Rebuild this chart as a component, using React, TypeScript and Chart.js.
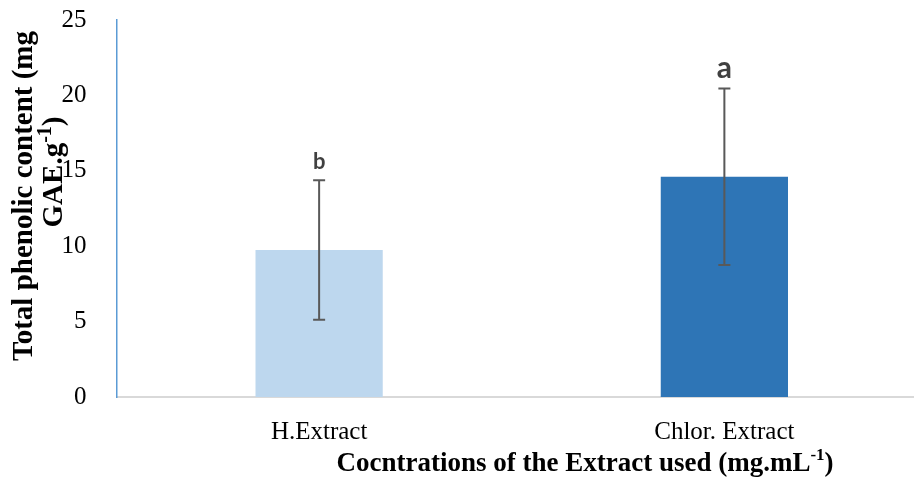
import React, { useEffect, useRef } from "react";
import { Chart, registerables } from "chart.js";

Chart.register(...registerables);

const categories = ["H.Extract", "Chlor. Extract"];
const means = [9.75, 14.6];
const errors = [4.63, 5.85];
const letters = ["b", "a"];
const letterSizes = [22, 30];
const barColors = ["#BDD7EE", "#2E75B6"];
const yTicks = [0, 5, 10, 15, 20, 25];

const yTitleLine1 = "Total phenolic content (mg";
const yTitleLine2 = ["GAE.g", "-1", ")"];
const xTitle = ["Cocntrations of the Extract used (mg.mL", "-1", ")"];

function drawSupText(
  ctx: CanvasRenderingContext2D,
  parts: string[],
  cx: number,
  cy: number,
  size: number,
  supRatio: number
) {
  const main = `bold ${size}px "Liberation Serif", "Times New Roman", serif`;
  const sup = `bold ${Math.round(size * supRatio)}px "Liberation Serif", "Times New Roman", serif`;
  ctx.font = main;
  const w0 = ctx.measureText(parts[0]).width;
  const w2 = ctx.measureText(parts[2]).width;
  ctx.font = sup;
  const w1 = ctx.measureText(parts[1]).width;
  const total = w0 + w1 + w2;
  let x = cx - total / 2;
  ctx.textAlign = "left";
  ctx.textBaseline = "middle";
  ctx.font = main;
  ctx.fillText(parts[0], x, cy);
  x += w0;
  ctx.font = sup;
  ctx.fillText(parts[1], x, cy - size * 0.3);
  x += w1;
  ctx.font = main;
  ctx.fillText(parts[2], x, cy);
}

const overlayPlugin = {
  id: "overlay",
  afterDatasetsDraw(chart: any) {
    const ctx = chart.ctx as CanvasRenderingContext2D;
    const xs = chart.scales.x;
    const ys = chart.scales.y;
    ctx.save();
    means.forEach((m, i) => {
      const x = xs.getPixelForValue(i);
      const top = ys.getPixelForValue(m + errors[i]);
      const bot = ys.getPixelForValue(m - errors[i]);
      ctx.strokeStyle = "#595959";
      ctx.lineWidth = 2;
      ctx.beginPath();
      ctx.moveTo(x, top);
      ctx.lineTo(x, bot);
      ctx.moveTo(x - 6, top);
      ctx.lineTo(x + 6, top);
      ctx.moveTo(x - 6, bot);
      ctx.lineTo(x + 6, bot);
      ctx.stroke();
      ctx.fillStyle = "#404040";
      ctx.font = `bold ${letterSizes[i]}px Lato, "Open Sans", sans-serif`;
      ctx.textAlign = "center";
      ctx.textBaseline = "alphabetic";
      ctx.fillText(letters[i], x, top - 11);
    });
    ctx.restore();
  },
  afterDraw(chart: any) {
    const ctx = chart.ctx as CanvasRenderingContext2D;
    ctx.save();
    ctx.fillStyle = "#000000";
    drawSupText(ctx, xTitle, 585, 464, 27, 0.62);
    ctx.translate(25, 196);
    ctx.rotate(-Math.PI / 2);
    ctx.font = `bold 29px "Liberation Serif", "Times New Roman", serif`;
    ctx.textAlign = "center";
    ctx.textBaseline = "middle";
    ctx.fillText(yTitleLine1, 0, 0);
    ctx.restore();
    ctx.save();
    ctx.fillStyle = "#000000";
    ctx.translate(55, 172);
    ctx.rotate(-Math.PI / 2);
    drawSupText(ctx, yTitleLine2, 0, 0, 29, 0.7);
    ctx.restore();
  },
};

export default function App() {
  const ref = useRef<HTMLCanvasElement | null>(null);
  useEffect(() => {
    if (!ref.current) return;
    const chart = new Chart(ref.current, {
      type: "bar",
      data: {
        labels: categories,
        datasets: [
          {
            data: means,
            backgroundColor: barColors,
            barPercentage: 0.314,
            categoryPercentage: 1,
          },
        ],
      },
      options: {
        responsive: false,
        animation: false,
        layout: { padding: { top: 20, left: 0, right: 0, bottom: 0 } },
        plugins: {
          legend: { display: false },
          tooltip: { enabled: false },
        },
        scales: {
          x: {
            grid: { display: false },
            border: { display: true, color: "#D9D9D9", width: 2 },
            ticks: {
              color: "#000000",
              padding: 12,
              font: { family: '"Liberation Serif", "Times New Roman", serif', size: 25 },
            },
            afterFit: (s: any) => {
              s.height = 82;
              s.paddingLeft = 0;
              s.paddingRight = 0;
            },
          },
          y: {
            min: 0,
            max: 25,
            grid: { display: false },
            border: { display: true, color: "#5B9BD5", width: 1.5 },
            afterBuildTicks: (s: any) => {
              s.ticks = yTicks.map((v) => ({ value: v }));
            },
            ticks: {
              color: "#000000",
              padding: 22,
              font: { family: '"Liberation Serif", "Times New Roman", serif', size: 25 },
            },
            afterFit: (s: any) => {
              s.width = 116.5;
              s.paddingTop = 0;
              s.paddingBottom = 0;
            },
          },
        },
      },
      plugins: [overlayPlugin],
    });
    return () => chart.destroy();
  }, []);
  return (
    <div
      style={{
        position: "fixed",
        left: 0,
        top: 0,
        width: 914,
        height: 479,
        overflow: "hidden",
        background: "#ffffff",
      }}
    >
      <canvas ref={ref} width={927} height={479} style={{ width: 927, height: 479, display: "block" }} />
    </div>
  );
}
